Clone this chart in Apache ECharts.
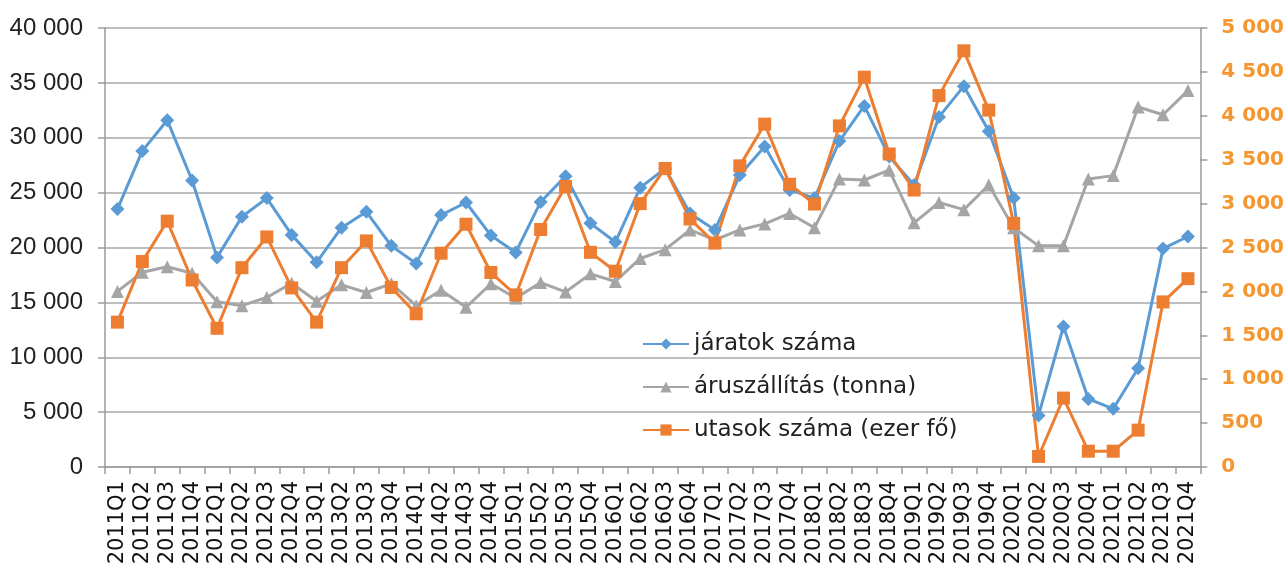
<!DOCTYPE html>
<html><head><meta charset="utf-8">
<script src="https://cdn.jsdelivr.net/npm/echarts@6/dist/echarts.min.js"></script>
<style>html,body{margin:0;padding:0;background:#fff}#c{width:1287px;height:570px}</style>
</head><body><div id="c"></div>
<script>
const categories = ["2011Q1","2011Q2","2011Q3","2011Q4","2012Q1","2012Q2","2012Q3","2012Q4","2013Q1","2013Q2","2013Q3","2013Q4","2014Q1","2014Q2","2014Q3","2014Q4","2015Q1","2015Q2","2015Q3","2015Q4","2016Q1","2016Q2","2016Q3","2016Q4","2017Q1","2017Q2","2017Q3","2017Q4","2018Q1","2018Q2","2018Q3","2018Q4","2019Q1","2019Q2","2019Q3","2019Q4","2020Q1","2020Q2","2020Q3","2020Q4","2021Q1","2021Q2","2021Q3","2021Q4"];
const jaratok = [23500,28800,31600,26100,19100,22800,24500,21150,18650,21800,23250,20150,18550,22950,24100,21100,19550,24150,26500,22200,20500,25450,27200,23100,21600,26600,29200,25250,24500,29700,32900,28300,25700,31900,34700,30600,24500,4700,12800,6200,5300,9000,19900,21000];
const aru = [16000,17750,18250,17650,15050,14700,15450,16750,15100,16600,15900,16700,14700,16100,14550,16700,15400,16800,15950,17600,16900,19000,19800,21600,20700,21600,22150,23100,21800,26250,26150,27050,22250,24100,23450,25700,21800,20150,20150,26250,26550,32800,32100,34300];
const utasok = [1650,2340,2800,2130,1580,2270,2620,2040,1650,2270,2575,2045,1745,2435,2765,2215,1960,2705,3195,2445,2230,3000,3400,2825,2550,3430,3905,3220,2995,3885,4440,3565,3155,4230,4740,4065,2775,120,785,180,180,420,1880,2145];
const leftTicks = {min:0,max:40000,interval:5000};
const rightTicks = {min:0,max:5000,interval:500};
const names = ["járatok száma","áruszállítás (tonna)","utasok száma (ezer fő)"];

const fmt = v => { const s = String(v); return s.length>3 ? s.slice(0,-3)+' '+s.slice(-3) : s; };
const chart = echarts.init(document.getElementById('c'), null, {renderer:'canvas'});
chart.setOption({
  animation:false,
  grid:{left:105,right:83,top:28,bottom:103,containLabel:false},
  legend:{
    orient:'vertical', left:637, top:327, itemGap:19, itemWidth:46, itemHeight:14,
    data:names,
    textStyle:{fontSize:23, lineHeight:24, color:'#222', fontFamily:"'DejaVu Sans',sans-serif"}
  },
  xAxis:{
    type:'category', data:categories, boundaryGap:true,
    axisLine:{lineStyle:{color:'#9a9a9a',width:1.5}},
    axisTick:{show:true,interval:0,length:7,lineStyle:{color:'#9a9a9a',width:1.5}},
    axisLabel:{interval:0,rotate:90,fontSize:21,color:'#111',fontFamily:"'DejaVu Sans',sans-serif",margin:14}
  },
  yAxis:[
    {type:'value',min:leftTicks.min,max:leftTicks.max,interval:leftTicks.interval,position:'left',
     axisLine:{show:true,lineStyle:{color:'#9a9a9a',width:1.5}},
     axisTick:{show:true,length:7,lineStyle:{color:'#9a9a9a',width:1.5}},
     splitLine:{lineStyle:{color:'#a8a8a8',width:1.5}},
     axisLabel:{formatter:fmt,fontSize:24,color:'#222',margin:22,fontFamily:"'Liberation Sans',Arial,sans-serif"}},
    {type:'value',min:rightTicks.min,max:rightTicks.max,interval:rightTicks.interval,position:'right',
     axisLine:{show:true,lineStyle:{color:'#9a9a9a',width:1.5}},
     axisTick:{show:true,length:7,lineStyle:{color:'#9a9a9a',width:1.5}},
     splitLine:{show:false},
     axisLabel:{formatter:fmt,fontSize:20,fontWeight:'bold',color:'#F5962F',margin:21,fontFamily:"'DejaVu Sans',sans-serif"}}
  ],
  series:[
    {name:names[0],type:'line',yAxisIndex:0,data:jaratok,symbol:'diamond',symbolSize:14,
     lineStyle:{color:'#5B9BD5',width:3},itemStyle:{color:'#5B9BD5'}},
    {name:names[1],type:'line',yAxisIndex:0,data:aru,symbol:'triangle',symbolSize:13,
     lineStyle:{color:'#A5A5A5',width:3},itemStyle:{color:'#A5A5A5'}},
    {name:names[2],type:'line',yAxisIndex:1,data:utasok,symbol:'rect',symbolSize:13,
     lineStyle:{color:'#ED7D31',width:3},itemStyle:{color:'#ED7D31'}}
  ]
});
</script></body></html>
